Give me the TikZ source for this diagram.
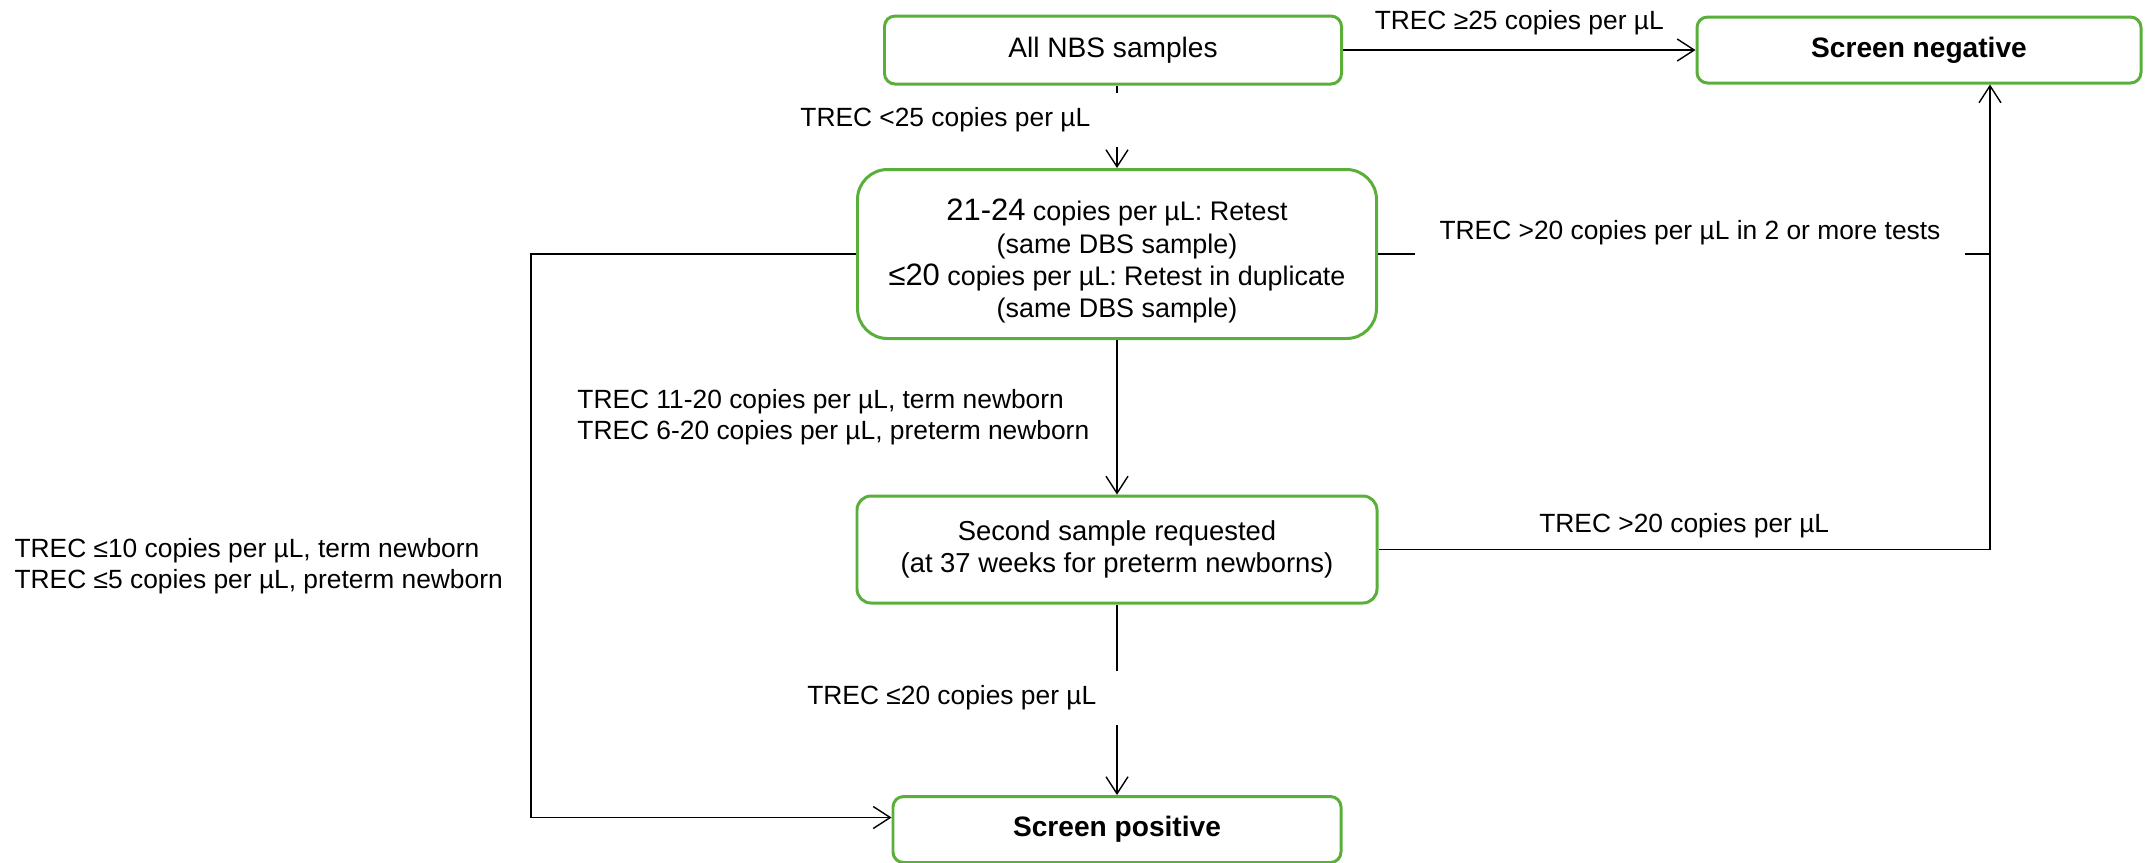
\documentclass[tikz,border=0pt]{standalone}
\usepackage{fontspec}
\setmainfont{Liberation Sans}
\usetikzlibrary{arrows.meta,positioning,calc}
\definecolor{leaf}{HTML}{5AAF3A}
\newcommand{\bignum}[1]{{\fontsize{8.8}{9.2}\selectfont #1}}

\begin{document}
\begin{tikzpicture}[
          gbox/.style={draw=leaf, line width=0.85pt, fill=white, rounded corners=3pt, inner sep=0pt, align=center, font=\fontsize{8}{9.2}\selectfont},
          lbl/.style={font=\fontsize{7.5}{8.8}\selectfont, align=left, inner sep=1pt},
          cut/.style={lbl, fill=white, inner xsep=0.3cm, inner ysep=0pt, minimum height=0.54cm},
          arr/.style={-{Straight Barb[length=1.7mm,width=2.2mm]}, line width=0.4pt}]
        \useasboundingbox (0,0) rectangle (21.55,-8.62);
        \node[gbox, minimum width=4.57cm, minimum height=0.68cm] (nbs) at (11.13,-0.50) {All NBS samples};
        \node[gbox, minimum width=4.44cm, minimum height=0.66cm] (neg) at (19.19,-0.50) {\textbf{Screen negative}};
        \node[gbox, font=\fontsize{7.65}{9.2}\selectfont, rounded corners=0.3cm, minimum width=5.19cm, minimum height=1.69cm] (retest) at (11.17,-2.54) {\rule{0pt}{3.6mm}\bignum{21-24} copies per µL: Retest\\(same DBS sample)\\\bignum{≤20} copies per µL: Retest in duplicate\\(same DBS sample)};
        \node[gbox, font=\fontsize{7.8}{9.2}\selectfont, rounded corners=4pt, minimum width=5.2cm, minimum height=1.07cm] (second) at (11.17,-5.495) {Second sample requested\\(at 37 weeks for preterm newborns)};
        \node[gbox, minimum width=4.48cm, minimum height=0.66cm] (pos) at (11.17,-8.295) {\textbf{Screen positive}};
        \coordinate (negin) at ([xshift=0.71cm]neg.south);
        \draw[arr] (nbs.east) -- node[lbl, above=3pt] (l25) {TREC ≥25 copies per µL} (neg.west);
        \draw[arr] (nbs.south -| retest.north) -- node[cut, anchor=east, xshift=0.04cm, yshift=0.07cm] (lless) {TREC <25 copies per µL} (retest.north);
        \draw[arr] (retest.west) -- ++(-3.25,0) |- node[lbl, pos=0.277, left=0.24cm] (lpos) {TREC ≤10 copies per µL, term newborn\\TREC ≤5 copies per µL, preterm newborn} ([yshift=0.12cm]pos.west);
        \draw[arr] (retest.south) -- node[lbl, left=0.235cm] (lsec) {TREC 11-20 copies per µL, term newborn\\TREC 6-20 copies per µL, preterm newborn} (second.north);
        \draw (retest.east) -- node[cut, inner xsep=0.25cm, minimum height=0.56cm, xshift=0.06cm, yshift=0.21cm] (ltwo) {TREC >20 copies per µL in 2 or more tests} (retest.east -| negin);
        \draw[arr] (second.east) -| node[lbl, pos=0.25, above=2pt] (lmore) {TREC >20 copies per µL} (negin);
        \draw[arr] (second.south) -- node[cut, anchor=east, xshift=0.10cm, yshift=0.02cm] (lfin) {TREC ≤20 copies per µL} (pos.north);
      \end{tikzpicture}
\end{document}
